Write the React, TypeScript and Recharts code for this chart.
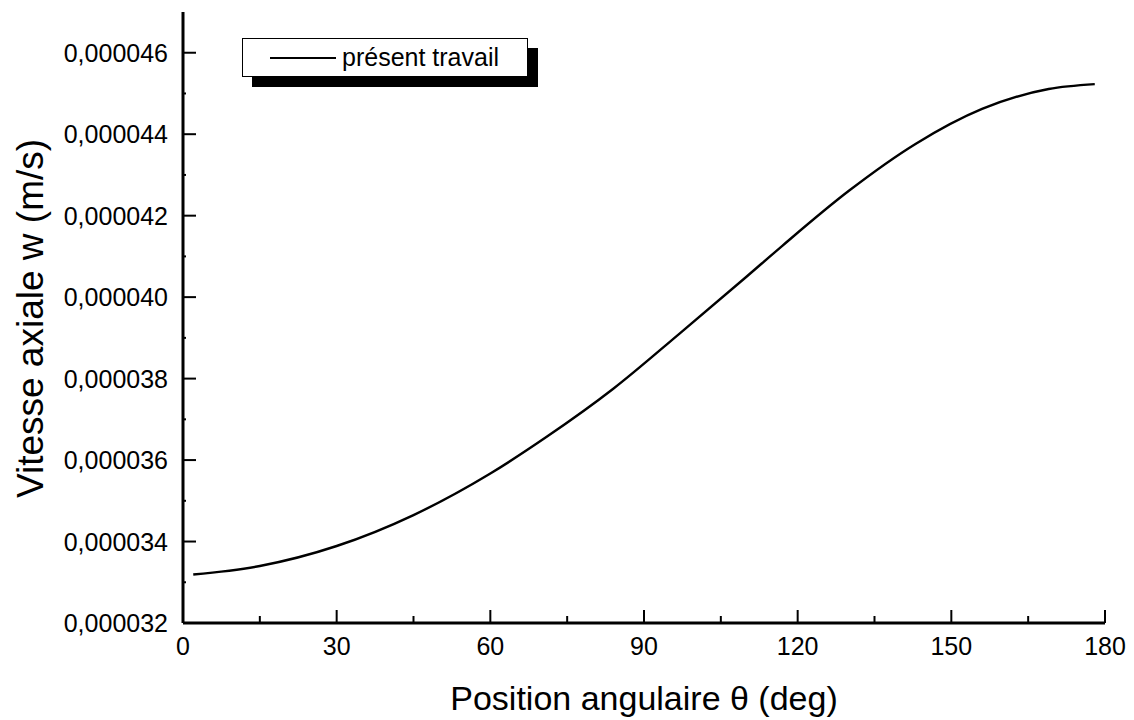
import React from "react";
import { LineChart, Line, XAxis, YAxis } from "recharts";

const seriesName = "présent travail";

// Angular position (deg) and axial velocity w (m/s)
const angles = [2, 15, 30, 45, 60, 71, 84, 97, 110, 117, 130, 143, 156, 169, 178];
const velocities = [
  0.00003319, 0.0000334, 0.00003389, 0.00003465, 0.00003567, 0.00003657, 0.00003775,
  0.00003911, 0.0000405, 0.00004126, 0.00004261, 0.00004376, 0.00004462, 0.00004511,
  0.00004523,
];

const xTicks = [0, 15, 30, 45, 60, 75, 90, 105, 120, 135, 150, 165, 180];
const yTicks = [
  0.000032, 0.000033, 0.000034, 0.000035, 0.000036, 0.000037, 0.000038, 0.000039, 0.00004,
  0.000041, 0.000042, 0.000043, 0.000044, 0.000045, 0.000046,
];

const data = angles.map((a, i) => ({ angle: a, w: velocities[i] }));

const FONT = "'Liberation Sans', Arial, sans-serif";
const AXIS = { stroke: "#000", strokeWidth: 3 };

const isMajorX = (v: number) => v % 30 === 0;
const isMajorY = (v: number) => Math.round(v * 1e6) % 2 === 0;
const fmtY = (v: number) => v.toFixed(6).replace(".", ",");

function BottomTick(props: any) {
  const { x, y, payload } = props;
  const major = isMajorX(payload.value);
  return (
    <g>
      <line x1={x} y1={y} x2={x} y2={y - (major ? 13 : 7)} stroke="#000" strokeWidth={2} />
      {major && (
        <text x={x} y={y + 32} textAnchor="middle" fontSize={25} fontFamily={FONT} fill="#000">
          {payload.value}
        </text>
      )}
    </g>
  );
}

function LeftTick(props: any) {
  const { x, y, payload } = props;
  const major = isMajorY(payload.value);
  return (
    <g>
      <line x1={x} y1={y} x2={x + (major ? 13 : 3)} y2={y} stroke="#000" strokeWidth={2} />
      {major && (
        <text x={x - 15} y={y} dy="0.36em" textAnchor="end" fontSize={25} fontFamily={FONT} fill="#000">
          {fmtY(payload.value)}
        </text>
      )}
    </g>
  );
}

function TopTick(props: any) {
  const { x, y } = props;
  return <line x1={x} y1={y} x2={x} y2={y + 3} stroke="#000" strokeWidth={2} />;
}

function RightTick(props: any) {
  const { x, y } = props;
  return <line x1={x - 3} y1={y} x2={x} y2={y} stroke="#000" strokeWidth={2} />;
}

export default function App() {
  return (
    <div style={{ position: "absolute", left: 0, top: 0, width: 1134, height: 720, background: "#fff" }}>
      <LineChart width={1134} height={720} data={data} margin={{ top: 12, right: 29, bottom: 0, left: 0 }}>
        <XAxis
          dataKey="angle"
          type="number"
          domain={[0, 180]}
          ticks={xTicks}
          interval={0}
          tickSize={0}
          tickMargin={0}
          height={97}
          axisLine={AXIS}
          tick={<BottomTick />}
          label={{
            content: (p: any) => (
              <text
                x={p.viewBox.x + p.viewBox.width / 2}
                y={p.viewBox.y + 87}
                textAnchor="middle"
                fontSize={34}
                fontFamily={FONT}
                fill="#000"
              >
                Position angulaire θ (deg)
              </text>
            ),
          }}
        />
        <XAxis
          xAxisId="top"
          orientation="top"
          dataKey="angle"
          type="number"
          domain={[0, 180]}
          ticks={xTicks}
          interval={0}
          tickSize={0}
          tickMargin={0}
          height={0}
          axisLine={AXIS}
          tick={<TopTick />}
        />
        <YAxis
          type="number"
          domain={[0.000032, 0.000047]}
          ticks={yTicks}
          interval={0}
          tickSize={0}
          tickMargin={0}
          width={183}
          axisLine={AXIS}
          tick={<LeftTick />}
          label={{
            content: (p: any) => {
              const cx = 30;
              const cy = p.viewBox.y + p.viewBox.height / 2 + 1;
              return (
                <text
                  x={cx}
                  y={cy}
                  transform={`rotate(-90 ${cx} ${cy})`}
                  textAnchor="middle"
                  dominantBaseline="central"
                  fontSize={37}
                  fontFamily={FONT}
                  fill="#000"
                >
                  Vitesse axiale w (m/s)
                </text>
              );
            },
          }}
        />
        <YAxis
          yAxisId="right"
          orientation="right"
          type="number"
          domain={[0.000032, 0.000047]}
          ticks={yTicks}
          interval={0}
          tickSize={0}
          tickMargin={0}
          width={0}
          axisLine={AXIS}
          tick={<RightTick />}
        />
        <Line
          type="monotone"
          dataKey="w"
          name={seriesName}
          stroke="#000"
          strokeWidth={2.4}
          dot={false}
          isAnimationActive={false}
        />
      </LineChart>
      {/* legend box with drop shadow */}
      <div
        style={{
          position: "absolute",
          left: 242,
          top: 38,
          width: 284,
          height: 37,
          border: "1px solid #000",
          background: "#fff",
          boxShadow: "10px 10px 0 #000",
          display: "flex",
          alignItems: "center",
          fontFamily: FONT,
          fontSize: 25,
        }}
      >
        <div style={{ marginLeft: 27, width: 66, height: 2, background: "#000" }} />
        <span style={{ marginLeft: 6, lineHeight: 1 }}>{seriesName}</span>
      </div>
    </div>
  );
}
